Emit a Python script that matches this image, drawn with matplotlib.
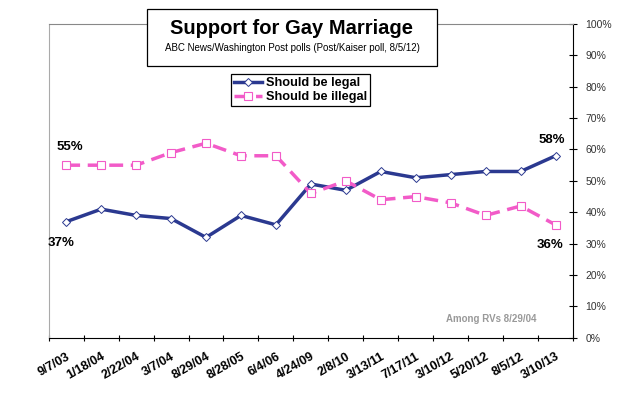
import matplotlib.pyplot as plt
from matplotlib.patches import Rectangle

plt.rcParams['font.family'] = ['Liberation Sans', 'DejaVu Sans']

dates = ['9/7/03', '1/18/04', '2/22/04', '3/7/04', '8/29/04', '8/28/05', '6/4/06',
         '4/24/09', '2/8/10', '3/13/11', '7/17/11', '3/10/12', '5/20/12', '8/5/12', '3/10/13']
legal = [37, 41, 39, 38, 32, 39, 36, 49, 47, 53, 51, 52, 53, 53, 58]
illegal = [55, 55, 55, 59, 62, 58, 58, 46, 50, 44, 45, 43, 39, 42, 36]

navy = '#2B3990'
pink = '#F25BC8'

fig = plt.figure(figsize=(6.41, 3.98), dpi=100)
ax = fig.add_axes([0.076, 0.151, 0.818, 0.789])

x = list(range(len(dates)))
ax.plot(x, legal, color=navy, lw=2.5, marker='D', ms=4.5, mfc='white', mec=navy,
        mew=0.7, label='Should be legal', zorder=3)
ax.plot(x, illegal, color=pink, lw=2.5, ls=(0, (4, 2.2)), marker='s', ms=5.5, mfc='white',
        mec=pink, mew=0.8, label='Should be illegal', zorder=3)

ax.set_xlim(-0.5, len(dates) - 0.5)
ax.set_ylim(0, 100)
ax.set_xticks([i - 0.5 for i in range(len(dates) + 1)])
ax.set_xticklabels([])
ax.set_xticks(x, minor=True)
ax.set_xticklabels(dates, minor=True, rotation=30, ha='right', rotation_mode='anchor',
                   fontsize=9, fontweight='bold')
ax.tick_params(axis='x', which='major', length=5, direction='inout', width=0.8)
ax.tick_params(axis='x', which='minor', length=0, pad=9)

ax.yaxis.tick_right()
ax.set_yticks(range(0, 101, 10))
ax.set_yticklabels([f'{v}%' for v in range(0, 101, 10)], fontsize=7.5, color='#333333')
ax.tick_params(axis='y', length=6, direction='inout', width=0.8, pad=6)

ax.spines['left'].set_color('#aaaaaa')
ax.spines['top'].set_color('#888888')
ax.spines['bottom'].set_color('black')
ax.spines['right'].set_color('black')

ax.text(0.1, 59, '55%', fontsize=9.5, fontweight='bold', ha='center', va='bottom')
ax.text(-0.15, 32, '37%', fontsize=9.5, fontweight='bold', ha='center', va='top')
ax.text(13.9, 61, '58%', fontsize=9.5, fontweight='bold', ha='center', va='bottom')
ax.text(13.85, 31.5, '36%', fontsize=9.5, fontweight='bold', ha='center', va='top')
ax.text(13.45, 6, 'Among RVs 8/29/04', fontsize=7, fontweight='bold', color='#999999',
        ha='right', va='center')

# title box
fig.patches.append(Rectangle((147 / 641, 1 - 66 / 398), 290 / 641, 57 / 398,
                             transform=fig.transFigure, fc='white', ec='black', lw=0.9,
                             zorder=5))
fig.text(292 / 641, 1 - 28 / 398, 'Support for Gay Marriage', fontsize=14.5,
         fontweight='bold', ha='center', va='center', zorder=6)
fig.text(292 / 641, 1 - 48 / 398, 'ABC News/Washington Post polls (Post/Kaiser poll, 8/5/12)',
         fontsize=7, ha='center', va='center', zorder=6)

leg = ax.legend(loc='upper left', bbox_to_anchor=((231 - 49) / 524, 1 - (74 - 24) / 314),
                frameon=True, fancybox=False, edgecolor='black', framealpha=1,
                prop={'weight': 'bold', 'size': 9.2}, handlelength=2.2,
                borderpad=0.25, labelspacing=0.15, handletextpad=0.3, borderaxespad=0)
leg.get_frame().set_linewidth(0.9)

fig.savefig('out.png', dpi=100)
